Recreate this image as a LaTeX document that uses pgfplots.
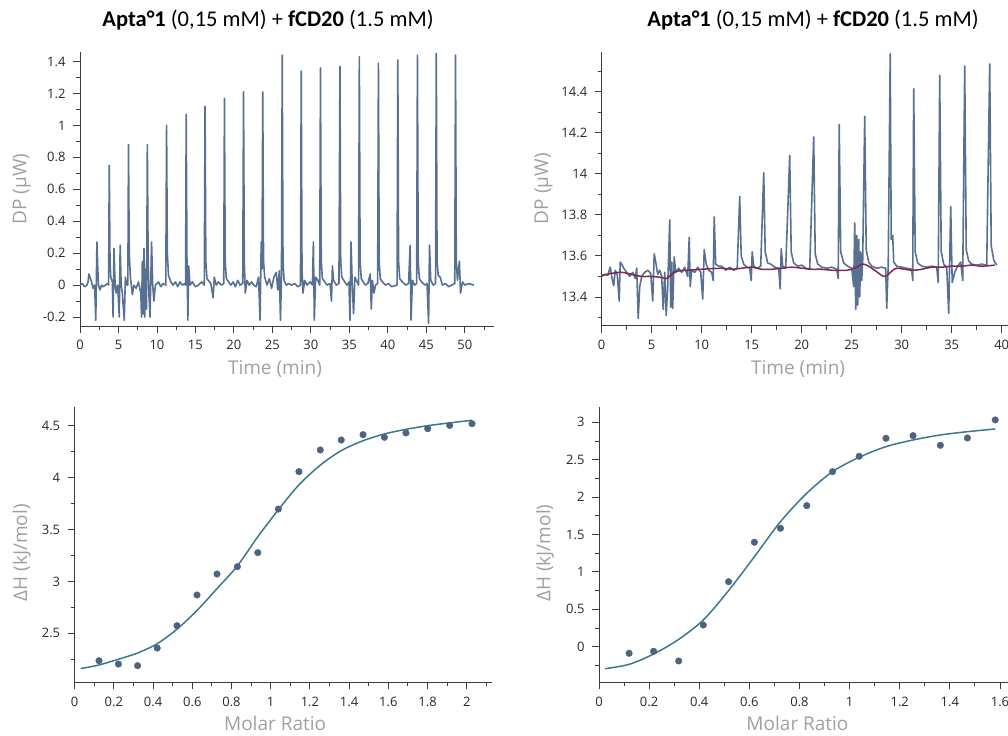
\documentclass[border=0pt]{standalone}
\usepackage{fontspec}
\setmainfont{Open Sans}
\newfontfamily\titlefont{Carlito}
\usepackage{pgfplots}
\pgfplotsset{compat=1.18}
\definecolor{trace}{RGB}{88,112,145}
\definecolor{basel}{RGB}{125,40,85}
\definecolor{fitc}{RGB}{60,120,140}
\definecolor{pts}{RGB}{78,98,130}
\definecolor{lab}{RGB}{160,160,160}
\definecolor{tickc}{RGB}{40,40,40}
\definecolor{axc}{RGB}{60,60,60}
\pgfplotsset{itc/.style={
  scale only axis,
  axis x line*=bottom, axis y line*=left,
  axis line style={axc, line width=0.9bp},
  every tick/.style={axc, line width=0.9bp},
  tick align=outside,
  major tick length=7bp, minor tick length=4bp,
  tick label style={font=\fontsize{13bp}{15bp}\selectfont, text=tickc},
  xticklabel style={yshift=-4bp},
  yticklabel style={xshift=-4bp},
  label style={font=\fontsize{19bp}{22bp}\selectfont, text=lab},
  /pgf/number format/assume math mode=true,
  anchor=south west,
}}
\begin{document}
\begin{tikzpicture}[x=1bp,y=1bp]
\path[use as bounding box] (0,0) rectangle (1008,736);

\node[font=\titlefont\fontsize{22.5bp}{26bp}\selectfont] at (268,716) {\textbf{Apta°1} (0,15 mM) + \textbf{fCD20} (1.5 mM)};
\node[font=\titlefont\fontsize{22.5bp}{26bp}\selectfont] at (813,716) {\textbf{Apta°1} (0,15 mM) + \textbf{fCD20} (1.5 mM)};

% top left thermogram
\begin{axis}[itc, at={(80bp,410bp)}, width=414bp, height=274bp,
  xmin=0, xmax=53.8, ymin=-0.256, ymax=1.46,
  xtick={0,5,10,15,20,25,30,35,40,45,50},
  minor xtick={2.5,7.5,12.5,17.5,22.5,27.5,32.5,37.5,42.5,47.5,52.5},
  ytick={-0.2,0,0.2,0.4,0.6,0.8,1,1.2,1.4},
  minor ytick={-0.1,0.1,0.3,0.5,0.7,0.9,1.1,1.3},
  xlabel={Time (min)}, ylabel={DP (μW)},
  xlabel style={at={(rel axis cs:0.471,0)}, anchor=center, yshift=-43bp},
  ylabel style={at={(rel axis cs:0,0.5)}, anchor=center, yshift=58bp},
]
\addplot[trace, line width=1.6bp, line join=round] coordinates {
(0,0.0) (0.3,0.01) (0.6,-0.01) (0.9,0.0) (1.05,0.02) (1.15,0.07) (1.3,0.05) (1.5,0.02) (1.7,-0.02) (1.9,0.0) (2.05,-0.22) (2.2,0.27) (2.3,0.12) (2.4,0.0) (2.6,-0.03) (2.8,0.0) (3.0,-0.01) (3.3,0.0) (3.6,0.01) (3.72,0.0) (3.8,0.75) (3.9,0.15) (4.0,0.05) (4.2,0.02) (4.3,-0.2) (4.42,0.23) (4.55,0.02) (4.7,-0.05) (4.9,0.0) (5.1,-0.2) (5.22,0.25) (5.35,0.0) (5.5,-0.05) (5.75,-0.22) (5.9,0.05) (6.1,0.0) (6.22,0.0) (6.3,0.88) (6.4,0.2) (6.55,0.05) (6.8,-0.06) (7.0,0.0) (7.3,-0.02) (7.6,0.02) (7.9,-0.05) (8.0,-0.2) (8.1,0.15) (8.2,-0.18) (8.32,0.23) (8.42,-0.2) (8.55,0.1) (8.65,-0.15) (8.75,0.88) (8.85,0.2) (8.95,-0.05) (9.1,-0.2) (9.3,0.27) (9.45,0.0) (9.6,-0.1) (9.8,0.0) (10.2,0.02) (10.5,-0.01) (10.8,0.01) (11.15,0.0) (11.25,1.0) (11.35,0.2) (11.5,0.06) (11.8,0.02) (12.1,0.0) (12.4,0.02) (12.7,-0.01) (13.0,0.02) (13.3,0.0) (13.6,0.01) (13.72,0.0) (13.8,1.07) (13.9,0.15) (14.02,-0.22) (14.12,0.12) (14.3,0.0) (14.6,0.02) (15.0,-0.01) (15.4,0.0) (15.8,0.02) (16.15,0.0) (16.25,1.12) (16.35,0.15) (16.5,0.04) (17.0,0.01) (17.3,-0.08) (17.45,0.05) (17.7,0.0) (18.0,0.02) (18.4,0.0) (18.68,0.01) (18.77,1.17) (18.87,0.15) (19.02,0.04) (19.3,0.02) (19.6,0.0) (19.9,0.02) (20.2,-0.01) (20.5,0.03) (20.8,0.0) (21.15,0.01) (21.25,1.21) (21.35,0.15) (21.48,-0.05) (21.7,0.03) (22.0,0.0) (22.3,0.02) (22.6,0.0) (22.9,-0.01) (23.2,0.05) (23.4,-0.22) (23.55,0.27) (23.65,0.1) (23.75,1.21) (23.85,0.15) (24.0,0.05) (24.3,0.0) (24.6,0.04) (24.9,-0.02) (25.2,0.05) (25.5,0.08) (25.7,-0.03) (25.9,0.09) (26.05,-0.22) (26.18,0.05) (26.28,1.44) (26.38,0.15) (26.52,0.03) (26.8,0.0) (27.1,0.01) (27.5,0.0) (27.9,0.01) (28.3,-0.01) (28.65,0.0) (28.75,1.34) (28.85,0.1) (28.98,-0.05) (29.2,0.03) (29.5,0.0) (29.9,0.02) (30.2,0.0) (30.33,0.27) (30.45,-0.22) (30.62,0.05) (30.9,0.03) (31.15,0.0) (31.25,1.36) (31.35,0.15) (31.5,0.04) (31.8,0.02) (32.1,0.0) (32.5,0.01) (32.68,-0.1) (32.8,0.12) (32.95,0.03) (33.3,0.0) (33.65,0.01) (33.78,1.37) (33.88,0.15) (34.02,0.05) (34.4,0.02) (34.7,0.0) (34.95,0.02) (35.08,-0.22) (35.22,0.27) (35.38,0.0) (35.55,-0.18) (35.72,0.05) (36.0,0.02) (36.2,0.0) (36.3,1.43) (36.4,0.15) (36.55,0.04) (36.8,0.02) (37.1,0.0) (37.4,0.01) (37.72,0.07) (37.85,-0.15) (38.0,0.03) (38.2,-0.05) (38.4,0.0) (38.68,0.01) (38.78,1.39) (38.88,0.15) (39.02,0.04) (39.3,0.02) (39.7,0.0) (40.1,0.01) (40.5,-0.01) (41.2,0.0) (41.3,1.41) (41.4,0.15) (41.55,0.04) (41.9,0.02) (42.3,0.0) (42.7,0.01) (42.9,0.25) (43.02,-0.22) (43.2,0.03) (43.5,0.0) (43.75,0.01) (43.85,1.44) (43.95,0.15) (44.1,0.04) (44.4,0.02) (44.8,0.0) (45.1,0.01) (45.3,-0.24) (45.42,0.25) (45.58,0.03) (45.9,0.0) (46.2,0.01) (46.3,1.45) (46.4,0.15) (46.55,0.06) (46.8,0.05) (47.1,0.0) (47.5,0.01) (47.9,-0.01) (48.3,0.0) (48.7,0.01) (48.8,1.44) (48.9,0.15) (49.05,0.03) (49.3,0.15) (49.45,-0.05) (49.7,0.02) (50.0,0.0) (50.5,0.01) (51.2,0.0)
};
\end{axis}

% top right thermogram
\begin{axis}[itc, at={(601.7bp,410.3bp)}, width=410bp, height=274bp,
  xmin=0, xmax=41, ymin=13.26, ymax=14.595,
  xtick={0,5,10,15,20,25,30,35,40},
  minor xtick={2.5,7.5,12.5,17.5,22.5,27.5,32.5,37.5},
  ytick={13.4,13.6,13.8,14,14.2,14.4},
  minor ytick={13.3,13.5,13.7,13.9,14.1,14.3,14.5},
  xlabel={Time (min)}, ylabel={DP (μW)},
  xlabel style={at={(rel axis cs:0.479,0)}, anchor=center, yshift=-43bp},
  ylabel style={at={(rel axis cs:0,0.5)}, anchor=center, yshift=58bp},
]
\addplot[trace, line width=1.6bp, line join=round] coordinates {
(0.0,13.50) (0.3,13.51) (0.6,13.505) (0.85,13.545) (1.0,13.50) (1.2,13.455) (1.35,13.53) (1.55,13.51) (1.75,13.38) (1.85,13.57) (2.0,13.56) (2.2,13.54) (2.5,13.52) (2.8,13.50) (3.1,13.52) (3.35,13.49) (3.5,13.54) (3.65,13.295) (3.8,13.45) (4.0,13.50) (4.3,13.52) (4.6,13.53) (4.9,13.515) (5.1,13.38) (5.25,13.61) (5.4,13.57) (5.6,13.51) (5.8,13.53) (6.0,13.50) (6.15,13.34) (6.3,13.52) (6.45,13.31) (6.6,13.45) (6.8,13.775) (6.9,13.35) (7.0,13.57) (7.1,13.345) (7.25,13.595) (7.4,13.52) (7.7,13.54) (8.0,13.52) (8.3,13.545) (8.6,13.50) (8.75,13.69) (8.85,13.45) (9.0,13.53) (9.3,13.52) (9.6,13.545) (9.9,13.52) (10.1,13.39) (10.25,13.63) (10.45,13.56) (10.7,13.53) (11.0,13.52) (11.15,13.48) (11.25,13.79) (11.4,13.56) (11.7,13.55) (12.0,13.55) (12.4,13.53) (12.8,13.545) (13.2,13.53) (13.55,13.54) (13.8,13.89) (13.95,13.6) (14.2,13.56) (14.5,13.545) (14.8,13.54) (14.95,13.48) (15.05,13.62) (15.2,13.55) (15.5,13.54) (15.9,13.55) (16.2,14.005) (16.35,13.62) (16.6,13.565) (16.9,13.56) (17.3,13.545) (17.7,13.54) (17.85,13.44) (17.95,13.635) (18.1,13.55) (18.4,13.54) (18.8,14.09) (18.95,13.62) (19.2,13.565) (19.6,13.55) (20.0,13.555) (20.4,13.54) (20.8,13.535) (21.2,14.18) (21.35,13.61) (21.6,13.56) (22.0,13.545) (22.5,13.54) (23.0,13.545) (23.5,13.535) (23.65,13.49) (23.75,14.24) (23.9,13.62) (24.2,13.565) (24.6,13.55) (25.0,13.54) (25.2,13.45) (25.3,13.76) (25.4,13.34) (25.5,13.70) (25.6,13.36) (25.7,13.68) (25.8,13.40) (25.9,13.62) (26.0,13.48) (26.1,13.58) (26.3,14.28) (26.45,13.63) (26.7,13.57) (27.0,13.55) (27.5,13.54) (28.0,13.545) (28.4,13.54) (28.5,13.345) (28.65,13.55) (28.85,14.585) (28.95,13.68) (29.1,13.70) (29.2,13.57) (29.5,13.55) (30.0,13.545) (30.5,13.54) (31.0,13.535) (31.1,13.48) (31.2,14.415) (31.35,13.62) (31.6,13.565) (32.0,13.55) (32.5,13.545) (33.0,13.55) (33.5,13.545) (33.65,13.47) (33.8,14.48) (33.95,13.62) (34.2,13.56) (34.5,13.545) (34.7,13.32) (34.9,13.84) (35.05,13.47) (35.3,13.52) (35.6,13.55) (35.9,13.57) (36.1,13.48) (36.3,14.525) (36.45,13.63) (36.7,13.575) (37.0,13.56) (37.5,13.555) (38.0,13.56) (38.5,13.555) (38.8,14.535) (38.95,13.65) (39.2,13.58) (39.5,13.555)
};
\addplot[basel, line width=1.5bp, smooth] coordinates {
(0,13.505) (1,13.515) (2,13.52) (3,13.51) (4,13.50) (5,13.50) (6,13.495) (6.5,13.49) (7,13.51) (7.5,13.525) (8.5,13.53) (10,13.535) (12,13.54) (13,13.535) (14,13.54) (15,13.545) (16,13.535) (17,13.535) (18,13.54) (19,13.545) (20,13.54) (21,13.535) (22,13.535) (23,13.53) (24.5,13.53) (25.5,13.545) (26,13.56) (26.5,13.555) (27.3,13.53) (28,13.505) (28.4,13.50) (29,13.525) (29.5,13.54) (31,13.53) (32,13.535) (33,13.545) (34,13.545) (35,13.55) (36,13.55) (37,13.555) (38,13.55) (39.3,13.555)
};
\end{axis}

% bottom left isotherm
\begin{axis}[itc, at={(74.7bp,53.7bp)}, width=417.5bp, height=275.6bp,
  xmin=0, xmax=2.13, ymin=2.028, ymax=4.683,
  xtick={0,0.2,0.4,0.6,0.8,1,1.2,1.4,1.6,1.8,2},
  minor xtick={0.1,0.3,0.5,0.7,0.9,1.1,1.3,1.5,1.7,1.9,2.1},
  ytick={2.5,3,3.5,4,4.5},
  minor ytick={2.25,2.75,3.25,3.75,4.25},
  xlabel={Molar Ratio}, ylabel={ΔH (kJ/mol)},
  xlabel style={at={(rel axis cs:0.48,0)}, anchor=center, yshift=-41bp},
  ylabel style={at={(rel axis cs:0,0.47)}, anchor=center, yshift=53bp},
]
\addplot[fitc, line width=1.5bp, smooth] coordinates {
(0.03,2.16) (0.124,2.195) (0.223,2.25) (0.321,2.31) (0.421,2.40) (0.522,2.54) (0.624,2.72) (0.726,2.93) (0.830,3.15) (0.934,3.43) (1.039,3.69) (1.144,3.93) (1.253,4.12) (1.360,4.26) (1.471,4.355) (1.580,4.42) (1.690,4.465) (1.801,4.50) (1.913,4.527) (2.027,4.552)
};
\addplot[only marks, mark=*, mark size=3.3bp, mark options={fill=pts, draw=pts}] coordinates {
(0.124,2.236) (0.223,2.204) (0.321,2.188) (0.421,2.358) (0.522,2.573) (0.624,2.869) (0.726,3.071) (0.830,3.142) (0.934,3.277) (1.039,3.697) (1.144,4.057) (1.253,4.266) (1.360,4.362) (1.471,4.413) (1.580,4.388) (1.690,4.430) (1.801,4.471) (1.913,4.503) (2.027,4.519)
};
\end{axis}

% bottom right isotherm
\begin{axis}[itc, at={(599bp,53.7bp)}, width=413.5bp, height=275bp,
  xmin=0, xmax=1.65, ymin=-0.476, ymax=3.2,
  xtick={0,0.2,0.4,0.6,0.8,1,1.2,1.4,1.6},
  minor xtick={0.1,0.3,0.5,0.7,0.9,1.1,1.3,1.5},
  ytick={0,0.5,1,1.5,2,2.5,3},
  minor ytick={-0.25,0.25,0.75,1.25,1.75,2.25,2.75},
  xlabel={Molar Ratio}, ylabel={ΔH (kJ/mol)},
  xlabel style={at={(rel axis cs:0.48,0)}, anchor=center, yshift=-41bp},
  ylabel style={at={(rel axis cs:0,0.47)}, anchor=center, yshift=54bp},
]
\addplot[fitc, line width=1.5bp, smooth] coordinates {
(0.024,-0.294) (0.12,-0.236) (0.218,-0.098) (0.318,0.098) (0.416,0.357) (0.517,0.749) (0.620,1.203) (0.724,1.671) (0.829,2.051) (0.932,2.340) (1.038,2.532) (1.145,2.674) (1.253,2.763) (1.362,2.830) (1.470,2.874) (1.581,2.910)
};
\addplot[only marks, mark=*, mark size=3.3bp, mark options={fill=pts, draw=pts}] coordinates {
(0.120,-0.088) (0.218,-0.062) (0.318,-0.191) (0.416,0.290) (0.517,0.869) (0.620,1.396) (0.724,1.583) (0.829,1.885) (0.932,2.340) (1.038,2.545) (1.145,2.786) (1.253,2.821) (1.362,2.692) (1.470,2.790) (1.581,3.031)
};
\end{axis}
\end{tikzpicture}
\end{document}
